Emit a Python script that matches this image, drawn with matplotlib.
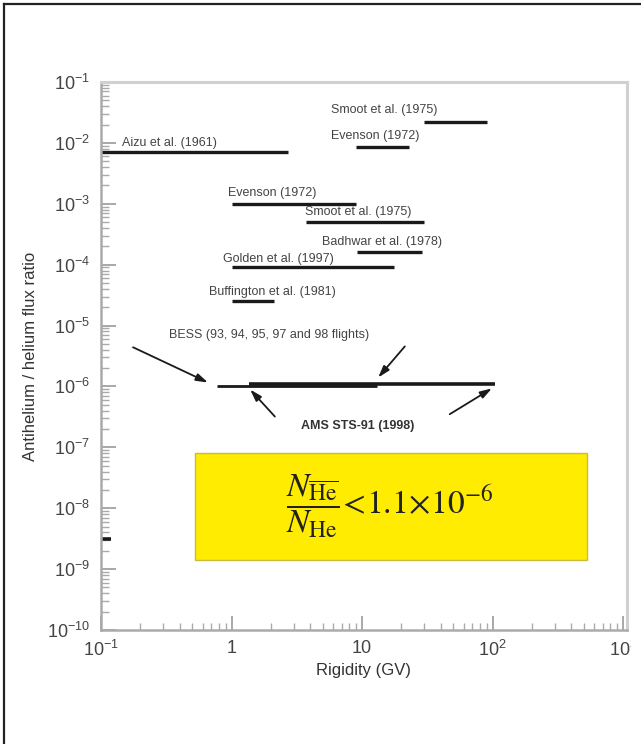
import numpy as np
import matplotlib
matplotlib.use("Agg")
import matplotlib.pyplot as plt
from matplotlib.ticker import LogLocator, LogFormatterSciNotation, NullFormatter, FixedLocator, FixedFormatter
from matplotlib.patches import Rectangle
from matplotlib.lines import Line2D

plt.rcParams['font.family'] = ['Liberation Sans', 'DejaVu Sans']
plt.rcParams['mathtext.fontset'] = 'custom'
plt.rcParams['mathtext.rm'] = 'Liberation Sans'
plt.rcParams['mathtext.it'] = 'Liberation Sans:italic'
plt.rcParams['mathtext.bf'] = 'Liberation Sans:bold'

# -------------------------------
# data: experiment upper limits (rigidity range, ratio)
# -------------------------------
exp_names = ["Aizu et al. (1961)", "Smoot et al. (1975)", "Evenson (1972)",
             "Evenson (1972)", "Smoot et al. (1975)", "Badhwar et al. (1978)",
             "Golden et al. (1997)", "Buffington et al. (1981)"]
exp_rmin = [0.1, 30, 9, 1.0, 3.7, 9.2, 1.0, 1.0]
exp_rmax = [2.7, 90, 23, 9, 30, 29, 17.6, 2.1]
exp_ratio = [7e-3, 2.2e-2, 8.6e-3, 1e-3, 5e-4, 1.6e-4, 9e-5, 2.5e-5]
# label anchors (left edge, centre height)
label_x = [0.145, 5.8, 5.8, 0.94, 3.66, 4.94, 0.86, 0.67]
label_y = [1.0e-2, 3.47e-2, 1.3e-2, 1.5e-3, 7.4e-4, 2.38e-4, 1.26e-4, 3.6e-5]

bess_r = [0.78, 13]
bess_ratio = 1.0e-6
ams_r = [1.35, 105]
ams_ratio = 1.1e-6
low_r = [0.1, 0.12]
low_ratio = 3.1e-9

# arrows: (tail, head)
bess_arrows = [((0.176, 4.4e-6), (0.66, 1.16e-6)), ((21.3, 4.55e-6), (13.3, 1.4e-6))]
ams_arrows = [((2.15, 3.2e-7), (1.39, 8.9e-7)), ((47, 3.5e-7), (99, 9.3e-7))]

xtick_vals = [0.1, 1, 10, 100, 1000]
xtick_labels = [r'$10^{-1}$', '1', '10', r'$10^{2}$', r'$10^{3}$']

# -------------------------------
# figure
# -------------------------------
fig = plt.figure(figsize=(6.41, 7.44), dpi=100)
ax = fig.add_axes([101/641, 1-630/744, (627-101)/641, (630-82)/744])
ax.set_xscale('log')
ax.set_yscale('log')
ax.set_xlim(0.1, 1073)
ax.set_ylim(1e-10, 1e-1)

line_col = '#1a1a1a'
text_col = '#444444'
for i in range(len(exp_names)):
    ax.plot([exp_rmin[i], exp_rmax[i]], [exp_ratio[i]]*2, color=line_col, lw=2.4, solid_capstyle='butt')
    ax.text(label_x[i], label_y[i], exp_names[i], fontsize=9, color=text_col, ha='left', va='center')

ax.plot(bess_r, [bess_ratio]*2, color=line_col, lw=2.0, solid_capstyle='butt')
ax.plot(ams_r, [ams_ratio]*2, color=line_col, lw=2.6, solid_capstyle='butt')
ax.plot(low_r, [low_ratio]*2, color=line_col, lw=2.6, solid_capstyle='butt')

for tail, head in bess_arrows + ams_arrows:
    ax.annotate('', xy=head, xytext=tail,
                arrowprops=dict(arrowstyle='-|>,head_length=0.7,head_width=0.22',
                                color=line_col, lw=1.3, shrinkA=0, shrinkB=0))

ax.text(1.94, 7.1e-6, "BESS (93, 94, 95, 97 and 98 flights)", fontsize=9, color=text_col,
        ha='center', va='center')
ax.text(9.3, 2.2e-7, "AMS STS-91 (1998)", fontsize=9, color='#333333', fontweight='bold',
        ha='center', va='center')

# yellow result box
box = Rectangle((0.525, 1.4e-9), 530-0.525, 8.0e-8-1.4e-9, facecolor='#ffec00',
                edgecolor='#c9bb40', lw=1.0, zorder=1)
ax.add_patch(box)
ax.text(16.4, 1.08e-8,
        r'$\dfrac{N_{\overline{\mathrm{He}}}}{N_{\mathrm{He}}}\!<\!1.1\!\times\!10^{-6}$',
        math_fontfamily='stix', fontsize=24, color='#222222', ha='center', va='center', zorder=2)

# axes styling
for s in ['left', 'bottom']:
    ax.spines[s].set_color('#aaaaaa')
    ax.spines[s].set_linewidth(1.8)
for s in ['top', 'right']:
    ax.spines[s].set_color('#d0d0d0')
    ax.spines[s].set_linewidth(2.2)

ax.yaxis.set_major_locator(LogLocator(base=10, numticks=20))
ax.yaxis.set_minor_locator(LogLocator(base=10, subs=np.arange(2, 10), numticks=100))
ax.yaxis.set_major_formatter(LogFormatterSciNotation())
ax.yaxis.set_minor_formatter(NullFormatter())
ax.xaxis.set_major_locator(FixedLocator(xtick_vals))
ax.xaxis.set_major_formatter(FixedFormatter(xtick_labels))
ax.xaxis.set_minor_locator(LogLocator(base=10, subs=np.arange(2, 10), numticks=100))
ax.xaxis.set_minor_formatter(NullFormatter())

ax.tick_params(axis='y', which='major', direction='in', length=11, width=1.2, color='#999999',
               labelsize=13, labelcolor='#444444', pad=8)
ax.tick_params(axis='y', which='minor', direction='in', length=5.5, width=1.0, color='#aaaaaa')
ax.tick_params(axis='x', which='major', direction='in', length=10, width=1.2, color='#999999',
               labelsize=13, labelcolor='#444444', pad=7)
ax.tick_params(axis='x', which='minor', direction='in', length=5, width=1.0, color='#aaaaaa')

ax.set_ylabel("Antihelium / helium flux ratio", fontsize=12, color='#333333', labelpad=6)
ax.set_xlabel("Rigidity (GV)", fontsize=12, color='#333333', labelpad=2)

# clipped right edge and outer frame
fig.patches.append(Rectangle((631/641, 0), 1, (744-7)/744, transform=fig.transFigure,
                             facecolor='white', edgecolor='none', zorder=10))
fig.lines.append(Line2D([4/641, 640/641], [1-4/744, 1-4/744], transform=fig.transFigure,
                        color='#222222', lw=1.6))
fig.lines.append(Line2D([4/641, 4/641], [0, 1-4/744], transform=fig.transFigure,
                        color='#222222', lw=1.6))

fig.savefig("out.png", dpi=100)
